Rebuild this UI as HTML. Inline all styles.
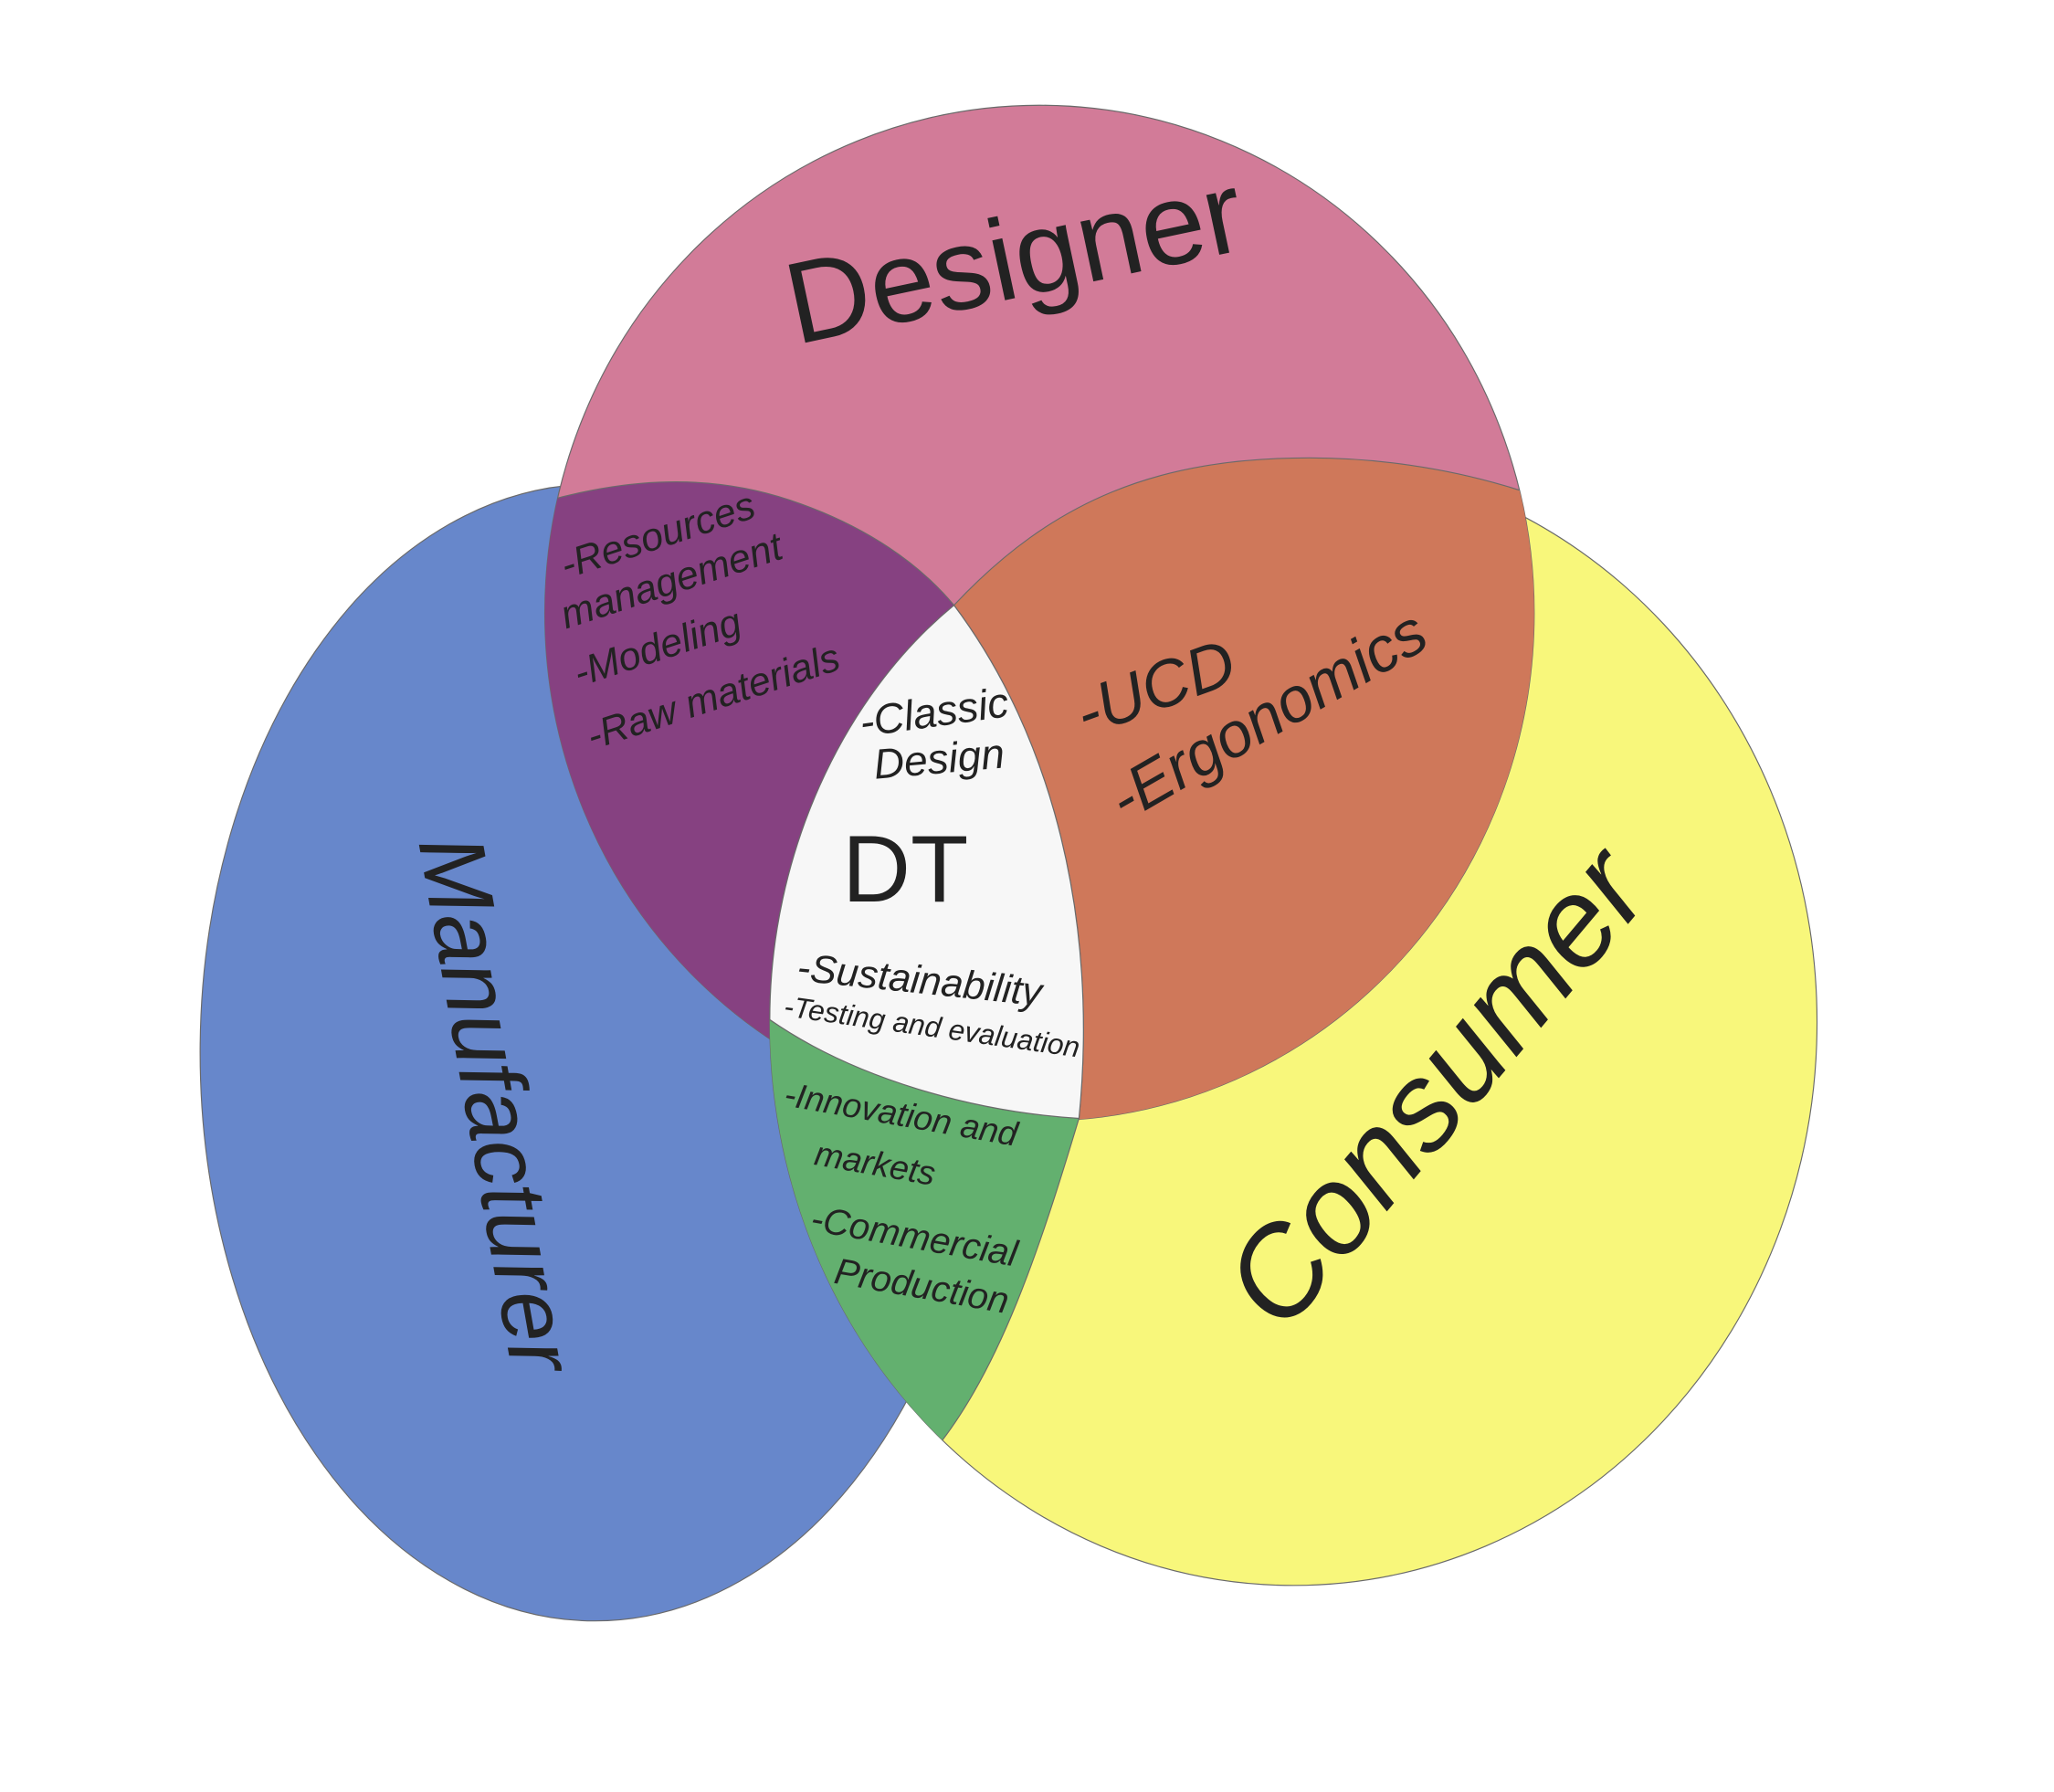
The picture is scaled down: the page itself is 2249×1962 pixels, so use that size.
<!DOCTYPE html>
<html><head><meta charset="utf-8"><style>
html,body{margin:0;padding:0;background:#fff;}
svg{display:block;}
text{font-family:"Liberation Sans","DejaVu Sans",sans-serif;fill:#222;font-style:italic;}
</style></head><body>
<svg width="2249" height="1962" viewBox="0 0 1561 1362" xmlns="http://www.w3.org/2000/svg">
<defs>
<clipPath id="pk"><ellipse cx="790" cy="466" rx="376" ry="386"/></clipPath>
<clipPath id="yl"><ellipse cx="983" cy="777" rx="398" ry="428"/></clipPath>
</defs>
<g stroke="#6a6a6a" stroke-width="0.8">
<ellipse cx="452" cy="800" rx="300" ry="432" fill="#6787cb"/>
<ellipse cx="983" cy="777" rx="398" ry="428" fill="#f8f77b"/>
<ellipse cx="790" cy="466" rx="376" ry="386" fill="#d27b98"/>
<path clip-path="url(#pk)" d="M380,392 C470,360 540,360 600,380 C660,400 700,430 725,460 C640,530 585,650 585,775 L585,830 L380,830 Z" fill="#864181"/>
<path clip-path="url(#pk)" d="M725,460 C800,380 880,348 995,348 C1100,348 1200,380 1250,420 L1250,900 L820,900 L820,850 C835,700 800,560 725,460 Z" fill="#cf785a"/>
<path clip-path="url(#yl)" d="M585,775 C650,820 740,845 820,850 C790,950 760,1040 712,1100 L540,1100 L540,775 Z" fill="#63b06f"/>
<path d="M725,460 C800,560 835,700 820,850 C740,845 650,820 585,775 C585,650 640,530 725,460 Z" fill="#f7f7f7"/>
</g>
<text x="605" y="262" font-size="88" transform="rotate(-12 605 262)" style="font-style:normal">Designer</text>
<text x="318" y="640" font-size="70" transform="rotate(80 318 640)">Manufacturer</text>
<text x="975" y="1015" font-size="95" transform="rotate(-50 975 1015)">Consumer</text>
<g font-size="30">
<text x="430" y="440" transform="rotate(-18 430 440)">-Resources</text>
<text x="430" y="478" transform="rotate(-18 430 478)">management</text>
<text x="440" y="522" transform="rotate(-18 440 522)">-Modeling</text>
<text x="450" y="570" transform="rotate(-18 450 570)">-Raw materials</text>
<text x="825" y="560" font-size="50" transform="rotate(-20 825 560)">-UCD</text>
<text x="855" y="625" font-size="48" transform="rotate(-30 855 625)">-Ergonomics</text>
<text x="655" y="560" font-size="32" transform="rotate(-8 655 560)">-Classic</text>
<text x="665" y="592" font-size="32" transform="rotate(-5 665 592)">Design</text>
<text x="640" y="685" font-size="72" style="font-style:normal">DT</text>
<text x="605" y="745" font-size="30" transform="rotate(6 605 745)">-Sustainability</text>
<text x="595" y="772" font-size="22" transform="rotate(8 595 772)">-Testing and evaluation</text>
<text x="595" y="840" font-size="26" transform="rotate(10 595 840)">-Innovation and</text>
<text x="618" y="885" font-size="26" transform="rotate(10 618 885)">markets</text>
<text x="615" y="935" font-size="28" transform="rotate(10 615 935)">-Commercial</text>
<text x="633" y="975" font-size="28" transform="rotate(10 633 975)">Production</text>
</g>
</svg>
</body></html>
